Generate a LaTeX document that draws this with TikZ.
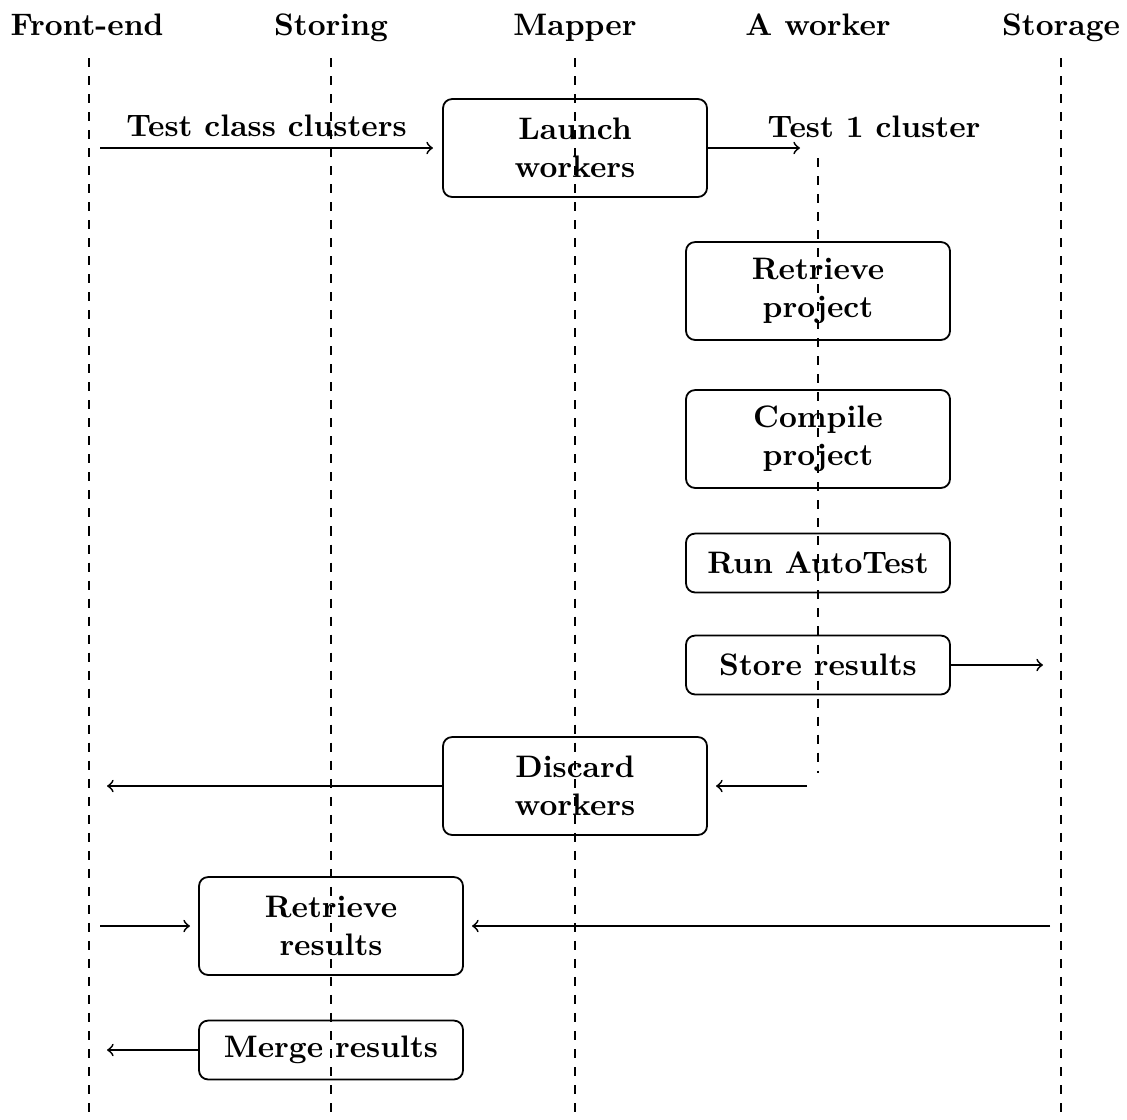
\documentclass[tikz,border=0pt]{standalone}
\usetikzlibrary{arrows}
\begin{document}
\begin{tikzpicture}[x=0.333pt,y=-0.333pt,
  every node/.style={font=\fontsize{10.35}{12.65}\selectfont\bfseries},
  head/.style={inner sep=0pt, anchor=base},
  life/.style={dashed, line width=0.5pt},
  msg/.style={->, line width=0.6pt},
  procbox/.style={draw, line width=0.6pt, rounded corners=3pt, align=center,
                  minimum width=87.9pt, inner sep=2pt},
  tall/.style={procbox, minimum height=32.6pt},
  short/.style={procbox, minimum height=19.6pt}]
\useasboundingbox (0,0) rectangle (1127,1119);

% column headers
\node[head] (hfe) at (87,35) {Front-end};
\node[head] (hst) at (331,35) {Storing};
\node[head] (hmp) at (575,35) {Mapper};
\node[head] (hwk) at (818,35) {A worker};
\node[head] (hsg) at (1061,35) {Storage};

% lifelines
\coordinate (fetop) at (89,58);   \coordinate (febot) at (89,1119);
\coordinate (sttop) at (331,58);  \coordinate (stbot) at (331,1119);
\coordinate (mptop) at (575,58);  \coordinate (mpbot) at (575,1119);
\coordinate (wktop) at (818,158); \coordinate (wkbot) at (818,773);
\coordinate (sgtop) at (1061,58); \coordinate (sgbot) at (1061,1119);
\draw[life] (fetop) -- (febot);
\draw[life] (sttop) -- (stbot);
\draw[life] (mptop) -- (mpbot);
\draw[life] (wktop) -- (wkbot);
\draw[life] (sgtop) -- (sgbot);

% process boxes
\node[tall]  (launch)  at (575,148) {Launch\\workers};
\node[tall]  (retproj) at (818,291) {Retrieve\\project};
\node[tall]  (comp)    at (818,439) {Compile\\project};
\node[short] (run)     at (818,563) {Run AutoTest};
\node[short] (store)   at (818,665) {Store results};
\node[tall]  (discard) at (575,786) {Discard\\workers};
\node[tall]  (retres)  at (331,926) {Retrieve\\results};
\node[short] (merge)   at (331,1050) {Merge results};

% message end points
\coordinate (m1a) at (100,148);  \coordinate (m1b) at (433,148);
\coordinate (m2b) at (800,148);
\coordinate (m3b) at (1043,665);
\coordinate (m4a) at (807,786);  \coordinate (m4b) at (716,786);
\coordinate (m5b) at (107,786);
\coordinate (m6a) at (100,926);  \coordinate (m6b) at (190,926);
\coordinate (m7a) at (1050,926); \coordinate (m7b) at (472,926);
\coordinate (m8b) at (107,1050);

\draw[msg] (m1a) -- node[above=0pt] (lbl1) {Test class clusters} (m1b);
\draw[msg] (launch.east) -- (m2b);
\node[anchor=base] (lbl2) at (874,137) {Test 1 cluster};
\draw[msg] (store.east) -- (m3b);
\draw[msg] (m4a) -- (m4b);
\draw[msg] (discard.west) -- (m5b);
\draw[msg] (m6a) -- (m6b);
\draw[msg] (m7a) -- (m7b);
\draw[msg] (merge.west) -- (m8b);
\end{tikzpicture}
\end{document}
